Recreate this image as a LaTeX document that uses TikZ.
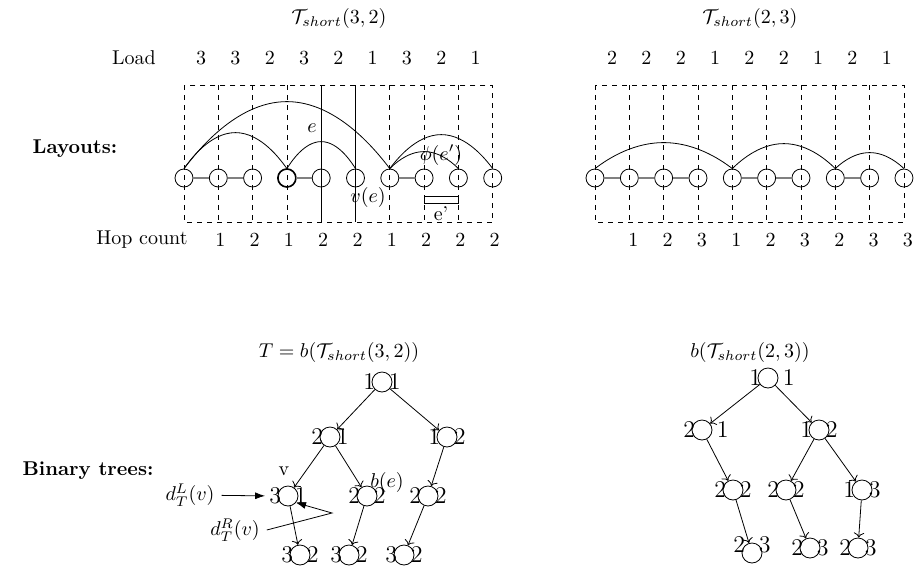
\documentclass[tikz,border=0pt]{standalone}
\usepackage{amsmath, amssymb}
\usepackage{tikz}
\usetikzlibrary{arrows.meta, calc}

\begin{document}
\begin{tikzpicture}[x=0.5pt, y=-0.5pt,
    lnode/.style={circle, draw, minimum size=9pt, inner sep=0pt},
    tnode/.style={circle, draw, minimum size=10pt, inner sep=0pt},
    dig/.style={inner sep=0pt, font=\large, label distance=-2pt},
    wdig/.style={inner sep=0pt, font=\large, label distance=2pt},
    guide/.style={dash pattern=on 2.5pt off 2.5pt, line width=0.4pt},
    link/.style={gray, line width=0.8pt},
    bow/.style={line width=0.4pt},
    tarrow/.style={->, line width=0.4pt},
    pointer/.style={-{Latex[length=5pt, width=3.5pt]}, line width=0.4pt}
]
\useasboundingbox (0,0) rectangle (923,569);

% Row labels
\node[font=\bfseries] (layouts) at (75,149) {Layouts:};
\node[font=\bfseries] (bintrees) at (88,471) {Binary trees:};

% Left layout T_short(3,2)
\node (titleL) at (339,18) {$\mathcal{T}_{short}(3,2)$};
\node (load) at (134,58) {Load};
\node (hop) at (142,240) {Hop count};
\foreach \i in {1,...,10}
  \node[lnode] (L\i) at ({184+34.3*(\i-1)},178) {};
\draw[guide] (L1 |- 0,85) rectangle (L10 |- 0,222);
\foreach \i in {2,3,4,7,8,9}
  \draw[guide] (L\i |- 0,85) -- (L\i |- 0,222);
\foreach \i in {5,6}
  \draw[line width=0.4pt] (L\i |- 0,85) -- (L\i |- 0,222);
\node[lnode, thick] at (L4) {};
\draw[link] (L1) -- (L2);
\draw[link] (L2) -- (L3);
\draw[link] (L4) -- (L5);
\draw[link] (L7) -- (L8);
\draw[bow] (L1.north) parabola bend ($(L1.north)!0.5!(L7.north)+(0,-67)$) (L7.north);
\draw[bow] (L1.north) parabola bend ($(L1.north)!0.5!(L4.north)+(0,-36)$) (L4.north);
\draw[bow] (L4.north) parabola bend ($(L4.north)!0.5!(L6.north)+(0,-27)$) (L6.north);
\draw[bow] (L7.north) parabola bend ($(L7.north)!0.5!(L10.north)+(0,-34)$) (L10.north);
\draw[bow] (L7.north) parabola bend ($(L7.north)!0.5!(L9.north)+(0,-17)$) (L9.north);
\foreach \v [count=\i] in {3,3,2,3,2,1,3,2,1}
  \node (ldL\i) at ({184+34.3*(\i-0.5)},58) {\v};
\foreach \v [count=\i] in {1,2,1,2,2,1,2,2,2}
  \node (hcL\i) at ({184+34.3*\i+2},240) {\v};
\node (eLab) at (312,128) {$e$};
\node (vLab) at (368,197) {$v(e)$};
\node (phiLab) at (441,155) {$\phi(e')$};
\draw[line width=0.4pt] (L8 |- 0,196) rectangle (L9 |- 0,203);
\node (epLab) at (441,214) {e'};

% Right layout T_short(2,3)
\node (titleR) at (750,18) {$\mathcal{T}_{short}(2,3)$};
\foreach \i in {1,...,10}
  \node[lnode] (R\i) at ({595+34.33*(\i-1)},178) {};
\draw[guide] (R1 |- 0,85) rectangle (R10 |- 0,222);
\foreach \i in {2,...,9}
  \draw[guide] (R\i |- 0,85) -- (R\i |- 0,222);
\draw[link] (R1) -- (R2);
\draw[link] (R2) -- (R3);
\draw[link] (R3) -- (R4);
\draw[link] (R5) -- (R6);
\draw[link] (R6) -- (R7);
\draw[link] (R8) -- (R9);
\draw[bow] (R1.north) parabola bend ($(R1.north)!0.5!(R5.north)+(0,-26)$) (R5.north);
\draw[bow] (R5.north) parabola bend ($(R5.north)!0.5!(R8.north)+(0,-25)$) (R8.north);
\draw[bow] (R8.north) parabola bend ($(R8.north)!0.5!(R10.north)+(0,-16)$) (R10.north);
\foreach \v [count=\i] in {2,2,2,1,2,2,1,2,1}
  \node (ldR\i) at ({595+34.33*(\i-0.5)},58) {\v};
\foreach \v [count=\i] in {1,2,3,1,2,3,2,3,3}
  \node (hcR\i) at ({595+34.33*\i+4},240) {\v};

% Left tree T = b(T_short(3,2))
\node (titleT) at (339,352) {$T = b(\mathcal{T}_{short}(3,2))$};
\node[tnode, label={[dig]left:1}, label={[dig]right:1}] (ta) at (382,382) {};
\node[tnode, label={[dig]left:2}, label={[dig]right:1}] (tb) at (330,437) {};
\node[tnode, label={[dig]left:1}, label={[dig]right:2}] (tc) at (447,437) {};
\node[tnode, label={[dig, name=tdl]left:3}, label={[dig]right:1}] (td) at (288,496) {};
\node[tnode, label={[dig]left:2}, label={[dig]right:2}] (te) at (367,496) {};
\node[tnode, label={[dig]left:2}, label={[dig]right:2}] (tf) at (428,496) {};
\node[tnode, label={[dig]left:3}, label={[dig]right:2}] (tg) at (300,555) {};
\node[tnode, label={[dig]left:3}, label={[dig]right:2}] (th) at (349,555) {};
\node[tnode, label={[dig]left:3}, label={[dig]right:2}] (ti) at (404,555) {};
\draw[tarrow] (ta) -- (tb);
\draw[tarrow] (ta) -- (tc);
\draw[tarrow] (tb) -- (td);
\draw[tarrow] (tb) -- (te);
\draw[tarrow] (tc) -- (tf);
\draw[tarrow] (td) -- (tg);
\draw[tarrow] (te) -- (th);
\draw[tarrow] (tf) -- (ti);
\node (vName) at (284,471) {v};
\node (beLab) at (387,482) {$b(e)$};
\node (dL) at (190,495) {$d_T^L(v)$};
\node (dR) at (235,530) {$d_T^R(v)$};
\coordinate (kink) at (332,513);
\draw[pointer, shorten >=2pt] (dL) -- (tdl);
\draw[pointer] (dR.east) -- (kink) -- (td.-40);

% Right tree b(T_short(2,3))
\node (titleB) at (750,352) {$b(\mathcal{T}_{short}(2,3))$};
\node[tnode, label={[dig]left:1}, label={[wdig]right:1}] (ua) at (768,378) {};
\node[tnode, label={[dig]left:2}, label={[wdig]right:1}] (ub) at (702,430) {};
\node[tnode, label={[dig]left:1}, label={[dig]right:2}] (uc) at (819,430) {};
\node[tnode, label={[dig]left:2}, label={[dig]right:2}] (ud) at (733,490) {};
\node[tnode, label={[dig]left:2}, label={[dig]right:2}] (ue) at (786,490) {};
\node[tnode, label={[dig]left:1}, label={[dig]right:3}] (uf) at (862,490) {};
\node[tnode, label={[dig, yshift=4pt]left:2}, label={[dig, yshift=4pt]right:3}] (ug) at (752,553) {};
\node[tnode, label={[dig]left:2}, label={[dig]right:3}] (uh) at (810,548) {};
\node[tnode, label={[dig]left:2}, label={[dig]right:3}] (ui) at (858,548) {};
\draw[tarrow] (ua) -- (ub);
\draw[tarrow] (ua) -- (uc);
\draw[tarrow] (ub) -- (ud);
\draw[tarrow] (uc) -- (ue);
\draw[tarrow] (uc) -- (uf);
\draw[tarrow] (ud) -- (ug);
\draw[tarrow] (ue) -- (uh);
\draw[tarrow] (uf) -- (ui);

\end{tikzpicture}
\end{document}
